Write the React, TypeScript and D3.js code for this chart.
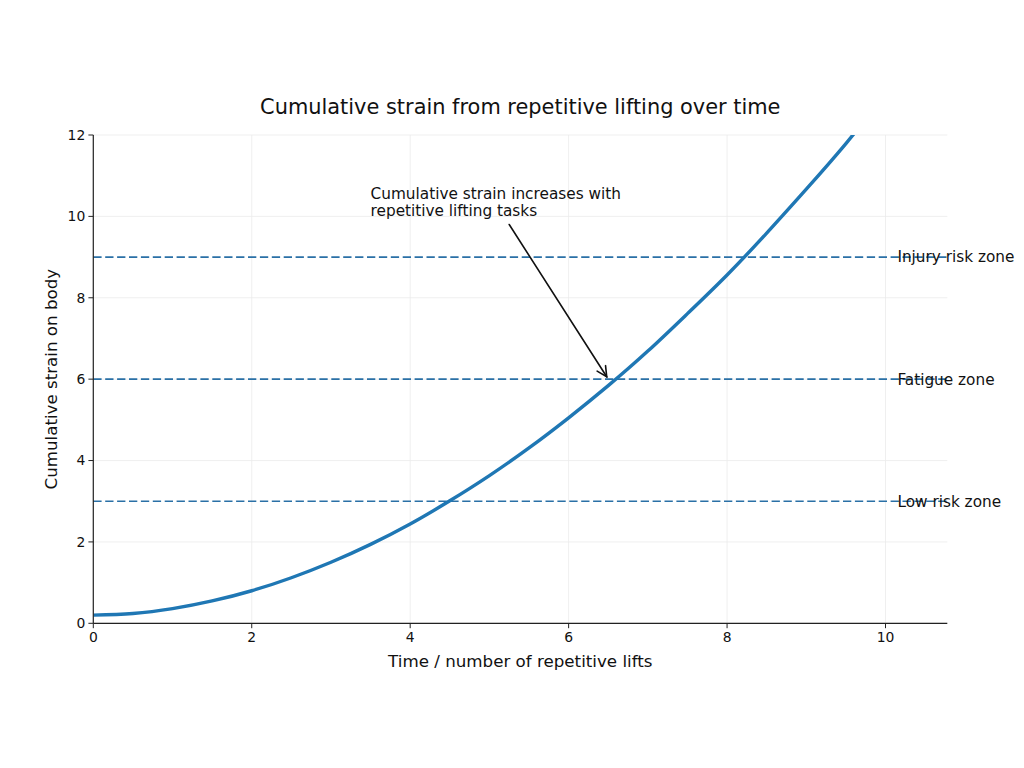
import React from 'react';
import * as d3 from 'd3';

// Data
const timeValues = [0, 0.5, 1, 1.5, 2, 2.5, 3, 3.5, 4, 4.5, 5, 5.5, 6, 6.5, 7, 7.5, 8, 8.5, 9, 9.5, 10];
const strainValues = [0.2, 0.24, 0.36, 0.55, 0.8, 1.12, 1.5, 1.94, 2.44, 3.01, 3.63, 4.31, 5.05, 5.84, 6.69, 7.61, 8.56, 9.59, 10.67, 11.79, 13.0];
const zoneLevels = [3, 6, 9];
const zoneLabels = ['Low risk zone', 'Fatigue zone', 'Injury risk zone'];
const zoneLabelX = 10.15;
const xTicks = [0, 2, 4, 6, 8, 10];
const yTicks = [0, 2, 4, 6, 8, 10, 12];
const xDomain = [0, 10.78];
const yDomain = [0, 12];
const annotationLines = ['Cumulative strain increases with', 'repetitive lifting tasks'];
const annotationTextAt = [3.5, 10.0];
const annotationTail = [5.25, 9.8];
const annotationHead = [6.5, 6.0];

const W = 1024;
const H = 768;
const left = 93.3;
const right = 947.3;
const top = 135;
const bottom = 623.3;
const FONT = '"DejaVu Sans", sans-serif';
const BLUE = '#1f77b4';
const DASH_BLUE = '#2a70a6';

export default function App() {
  const x = d3.scaleLinear().domain(xDomain).range([left, right]);
  const y = d3.scaleLinear().domain(yDomain).range([bottom, top]);
  const pts = timeValues.map((t, i) => [t, strainValues[i]] as [number, number]);
  const line = d3
    .line<[number, number]>()
    .x((d) => x(d[0]))
    .y((d) => y(d[1]))
    .curve(d3.curveNatural);

  // arrow geometry
  const tx = x(annotationTail[0]);
  const ty = y(annotationTail[1]);
  const hx0 = x(annotationHead[0]);
  const hy0 = y(annotationHead[1]);
  const dx = hx0 - tx;
  const dy = hy0 - ty;
  const len = Math.sqrt(dx * dx + dy * dy);
  const ux = dx / len;
  const uy = dy / len;
  const hx = hx0 - ux * 2.8;
  const hy = hy0 - uy * 2.8;
  const headLen = 10;
  const headW = 5;
  const bx = hx - ux * headLen;
  const by = hy - uy * headLen;
  const px = -uy;
  const py = ux;

  return (
    <div style={{ position: 'absolute', left: 0, top: 0 }}>
      <svg width={W} height={H} style={{ display: 'block', background: '#fff' }} fontFamily={FONT}>
        <defs>
          <clipPath id="plotclip">
            <rect x={left} y={top} width={right - left} height={bottom - top} />
          </clipPath>
        </defs>
        {/* grid */}
        <g stroke="#ebebeb" strokeWidth={0.8}>
          {xTicks.map((t) => (
            <line key={'gx' + t} x1={x(t)} x2={x(t)} y1={top} y2={bottom} />
          ))}
          {yTicks.map((t) => (
            <line key={'gy' + t} x1={left} x2={right} y1={y(t)} y2={y(t)} />
          ))}
        </g>
        {/* zone lines */}
        {zoneLevels.map((z, i) => (
          <g key={'z' + z}>
            <line
              x1={left}
              x2={right}
              y1={y(z)}
              y2={y(z)}
              stroke={DASH_BLUE}
              strokeWidth={1.6}
              strokeDasharray="8.3 3.6"
            />
            <text x={x(zoneLabelX)} y={y(z)} dy="0.35em" fontSize={15.3} fill="#111">
              {zoneLabels[i]}
            </text>
          </g>
        ))}
        {/* curve */}
        <path d={line(pts) || ''} fill="none" stroke={BLUE} strokeWidth={3.4} clipPath="url(#plotclip)" />
        {/* spines */}
        <line x1={left} x2={left} y1={top} y2={bottom} stroke="#222" strokeWidth={1.2} />
        <line x1={left} x2={right} y1={bottom} y2={bottom} stroke="#222" strokeWidth={1.2} />
        {/* ticks */}
        {xTicks.map((t) => (
          <g key={'xt' + t}>
            <line x1={x(t)} x2={x(t)} y1={bottom} y2={bottom + 4.9} stroke="#222" strokeWidth={1} />
            <text x={x(t)} y={bottom + 8} dy="0.76em" textAnchor="middle" fontSize={13.9} fill="#111">
              {t}
            </text>
          </g>
        ))}
        {yTicks.map((t) => (
          <g key={'yt' + t}>
            <line x1={left - 4.9} x2={left} y1={y(t)} y2={y(t)} stroke="#222" strokeWidth={1} />
            <text x={left - 8} y={y(t)} dy="0.35em" textAnchor="end" fontSize={13.9} fill="#111">
              {t}
            </text>
          </g>
        ))}
        {/* axis labels */}
        <text x={(left + right) / 2} y={667} textAnchor="middle" fontSize={16.7} fill="#111">
          Time / number of repetitive lifts
        </text>
        <text
          transform={`translate(51,${(top + bottom) / 2}) rotate(-90)`}
          textAnchor="middle"
          dy="0.35em"
          fontSize={16.7}
          fill="#111"
        >
          Cumulative strain on body
        </text>
        {/* title */}
        <text x={(left + right) / 2} y={114} textAnchor="middle" fontSize={20.9} fill="#111">
          Cumulative strain from repetitive lifting over time
        </text>
        {/* annotation */}
        <text x={x(annotationTextAt[0])} y={y(annotationTextAt[1])} fontSize={15.3} fill="#111">
          <tspan x={x(annotationTextAt[0])} dy="-1.15em">{annotationLines[0]}</tspan>
          <tspan x={x(annotationTextAt[0])} dy="1.15em">{annotationLines[1]}</tspan>
        </text>
        <g stroke="#111" strokeWidth={1.6} fill="none" strokeLinecap="round">
          <line x1={tx} y1={ty} x2={hx} y2={hy} />
          <path d={`M${bx + px * headW},${by + py * headW} L${hx},${hy} L${bx - px * headW},${by - py * headW}`} />
        </g>
      </svg>
    </div>
  );
}
